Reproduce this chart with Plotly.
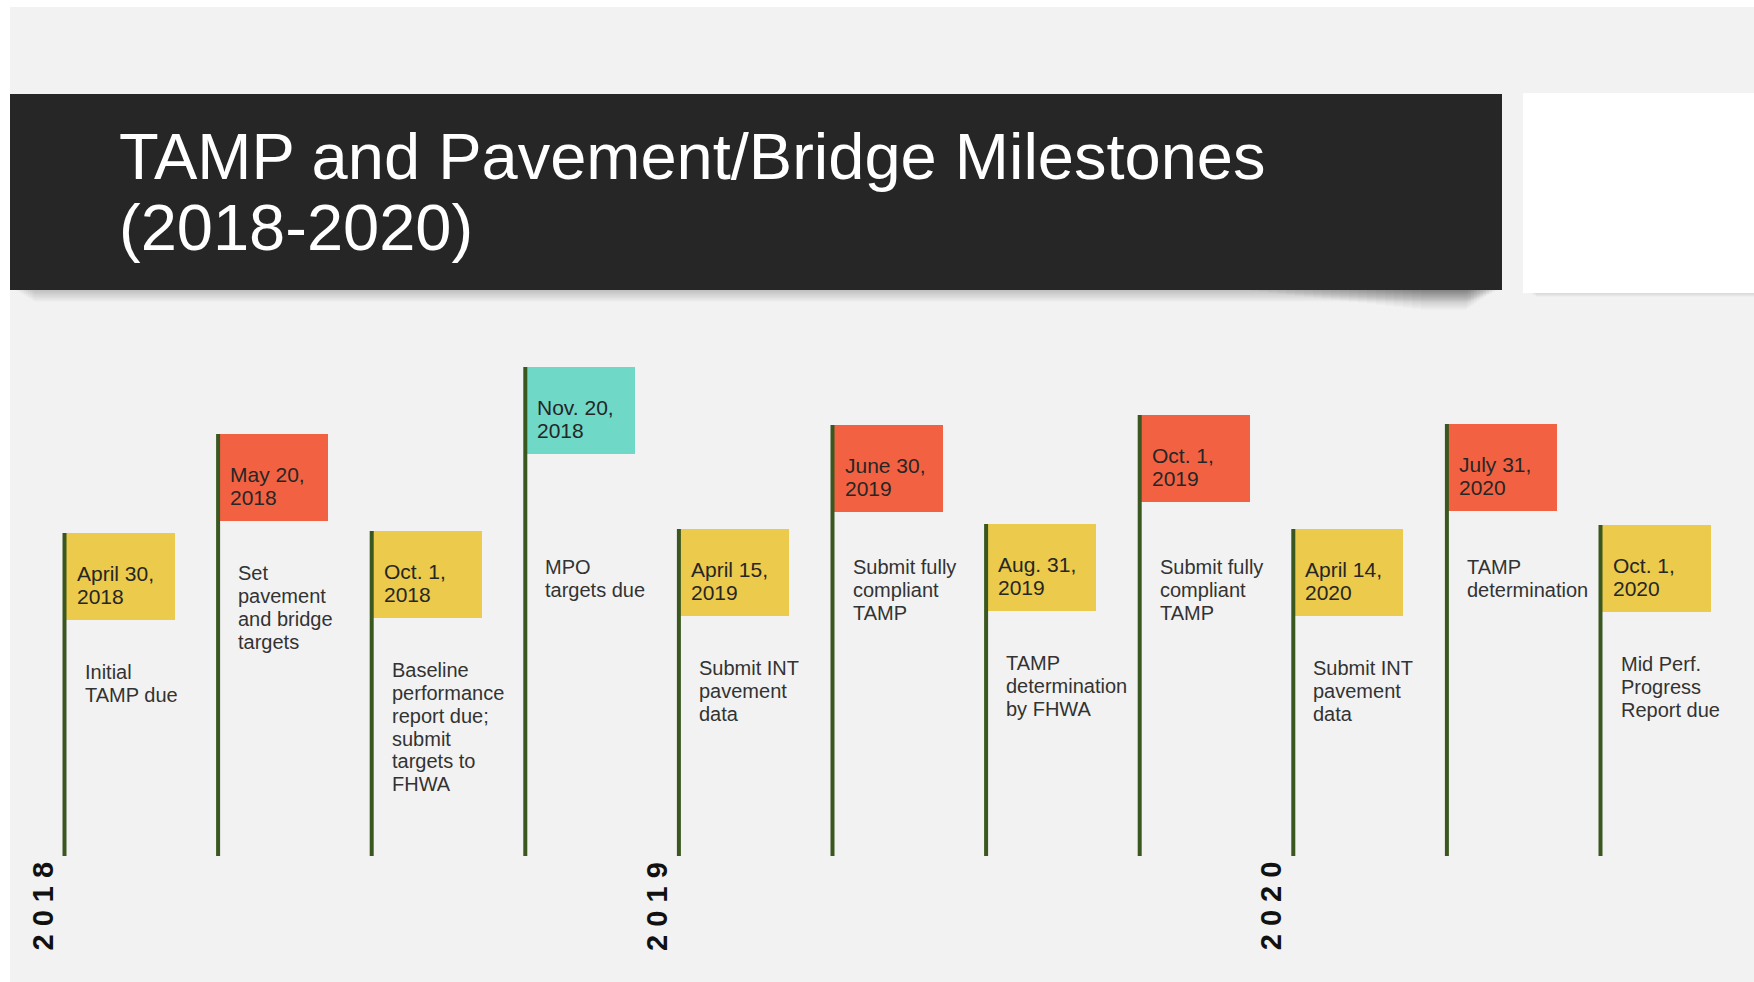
import plotly.graph_objects as go

# ---------------- data ----------------
DATES = ["April 30, 2018", "May 20, 2018", "Oct. 1, 2018", "Nov. 20, 2018",
         "April 15, 2019", "June 30, 2019", "Aug. 31, 2019", "Oct. 1, 2019",
         "April 14, 2020", "July 31, 2020", "Oct. 1, 2020"]
DESCRIPTIONS = [
    "Initial\nTAMP due",
    "Set\npavement\nand bridge\ntargets",
    "Baseline\nperformance\nreport due;\nsubmit\ntargets to\nFHWA",
    "MPO\ntargets due",
    "Submit INT\npavement\ndata",
    "Submit fully\ncompliant\nTAMP",
    "TAMP\ndetermination\nby FHWA",
    "Submit fully\ncompliant\nTAMP",
    "Submit INT\npavement\ndata",
    "TAMP\ndetermination",
    "Mid Perf.\nProgress\nReport due",
]
KINDS = ["due", "key", "due", "mpo", "due", "key", "due", "key", "due", "key", "due"]
POLE_HEIGHTS = [323, 422, 325, 489, 327, 431, 332, 441, 327, 432, 331]
TITLE_LINES = ["TAMP and Pavement/Bridge Milestones", "(2018-2020)"]

# ---------------- style ----------------
W, H = 1754, 982
FONT = "Liberation Sans, Arial, Helvetica, sans-serif"
KIND_COLOR = {"due": "#ebca4c", "key": "#f26242", "mpo": "#6fd8c7"}
POLE_COLOR = "#3a5720"
BG = "#f2f2f2"
BAR_BLACK = "#262626"
DATE_COLOR = "#262626"
DESC_COLOR = "#333333"

STEP = 153.6          # px between milestones
X0_PX = 64.5          # px of first pole
BASE_PX = 856         # px of pole baseline
FLAG_W_PX = 110
FLAG_H = 87
DATE_FS, DESC_FS, YEAR_FS = 21, 20, 29
DATE_LH, DESC_LH = 23.3, 22.8
TITLE_FS = 65


def px(x):
    return x / W


def py(y):
    return 1 - y / H


n = len(DATES)
idx = list(range(n))

fig = go.Figure()

# flags as bars hanging from the pole tops
fig.add_trace(go.Bar(
    x=idx,
    y=[FLAG_H] * n,
    base=[h - FLAG_H for h in POLE_HEIGHTS],
    width=FLAG_W_PX / STEP,
    offset=0,
    marker=dict(color=[KIND_COLOR[k] for k in KINDS], line=dict(width=0)),
    hoverinfo="skip",
))

# poles
pole_x, pole_y = [], []
for i, h in zip(idx, POLE_HEIGHTS):
    pole_x += [i, i, None]
    pole_y += [0, h, None]
fig.add_trace(go.Scatter(x=pole_x, y=pole_y, mode="lines",
                         line=dict(color=POLE_COLOR, width=4),
                         hoverinfo="skip"))

annotations = []

# date labels inside the flags
for i, (d, h) in enumerate(zip(DATES, POLE_HEIGHTS)):
    lines = d.rsplit(" ", 1)
    for k, t in enumerate(lines):
        annotations.append(dict(
            x=i, y=h, xref="x", yref="y", text=t, showarrow=False,
            xanchor="left", yanchor="top", xshift=12,
            yshift=-(33 - 0.189 * DATE_FS) - k * DATE_LH,
            font=dict(family=FONT, size=DATE_FS, color=DATE_COLOR),
            borderpad=0, borderwidth=0, align="left"))

# descriptions below the flags
for i, (desc, h) in enumerate(zip(DESCRIPTIONS, POLE_HEIGHTS)):
    top_h = min(h - FLAG_H - 45, BASE_PX - 560)
    for k, t in enumerate(desc.split("\n")):
        annotations.append(dict(
            x=i, y=top_h, xref="x", yref="y", text=t, showarrow=False,
            xanchor="left", yanchor="top", xshift=20,
            yshift=0.189 * DESC_FS - k * DESC_LH,
            font=dict(family=FONT, size=DESC_FS, color=DESC_COLOR),
            borderpad=0, borderwidth=0, align="left"))

# year labels at the first milestone of each year
years = [d[-4:] for d in DATES]
seen = set()
for i, y in enumerate(years):
    if y in seen:
        continue
    seen.add(y)
    annotations.append(dict(
        x=i, y=-50, xref="x", yref="y", text="<b>" + " ".join(y) + "</b>",
        showarrow=False, textangle=-90, xanchor="center", yanchor="middle",
        xshift=-22, font=dict(family=FONT, size=YEAR_FS, color="#111111"),
        borderpad=0, borderwidth=0))

# title
for k, t in enumerate(TITLE_LINES):
    annotations.append(dict(
        x=px(119), y=py(132 - 0.189 * TITLE_FS + k * 71), xref="paper", yref="paper",
        text=t, showarrow=False, xanchor="left", yanchor="top",
        font=dict(family=FONT, size=TITLE_FS, color="#ffffff"),
        borderpad=0, borderwidth=0, align="left"))

shapes = []


def rect(x0, y0, x1, y1, color, opacity=1.0):
    shapes.append(dict(type="rect", xref="paper", yref="paper",
                       x0=px(x0), x1=px(x1), y0=py(y1), y1=py(y0),
                       fillcolor=color, opacity=opacity, line=dict(width=0),
                       layer="below"))


# slide background
rect(10, 7, W, H, BG)
# soft shadow under black title bar
for k in range(10):
    rect(16 + 2 * k, 290, 1498 - 3 * k, 291 + 1.2 * k, "#000000", 0.018)
for k in range(20):
    rect(1250 + 9 * k, 290, 1495 - 1.5 * k, 291 + 1.0 * k, "#000000", 0.016)
# shadow under white box
for k in range(4):
    rect(1530 + 2 * k, 292, W, 293 + 1.2 * k, "#000000", 0.03)
# title bar and white box
rect(10, 94, 1502, 290, BAR_BLACK)
rect(1523, 93, W, 293, "#ffffff")

fig.update_layout(
    width=W, height=H,
    margin=dict(l=0, r=0, t=0, b=0, pad=0),
    paper_bgcolor="#ffffff", plot_bgcolor="rgba(0,0,0,0)",
    showlegend=False,
    xaxis=dict(range=[-X0_PX / STEP, (W - X0_PX) / STEP], visible=False,
               fixedrange=True),
    yaxis=dict(range=[-(H - BASE_PX), BASE_PX], visible=False, fixedrange=True),
    annotations=annotations,
    shapes=shapes,
    bargap=0,
)

fig.write_html(
    "out.html",
    config={"displayModeBar": False},
    post_script="document.body.style.margin='0';document.body.style.overflow='hidden';",
)
